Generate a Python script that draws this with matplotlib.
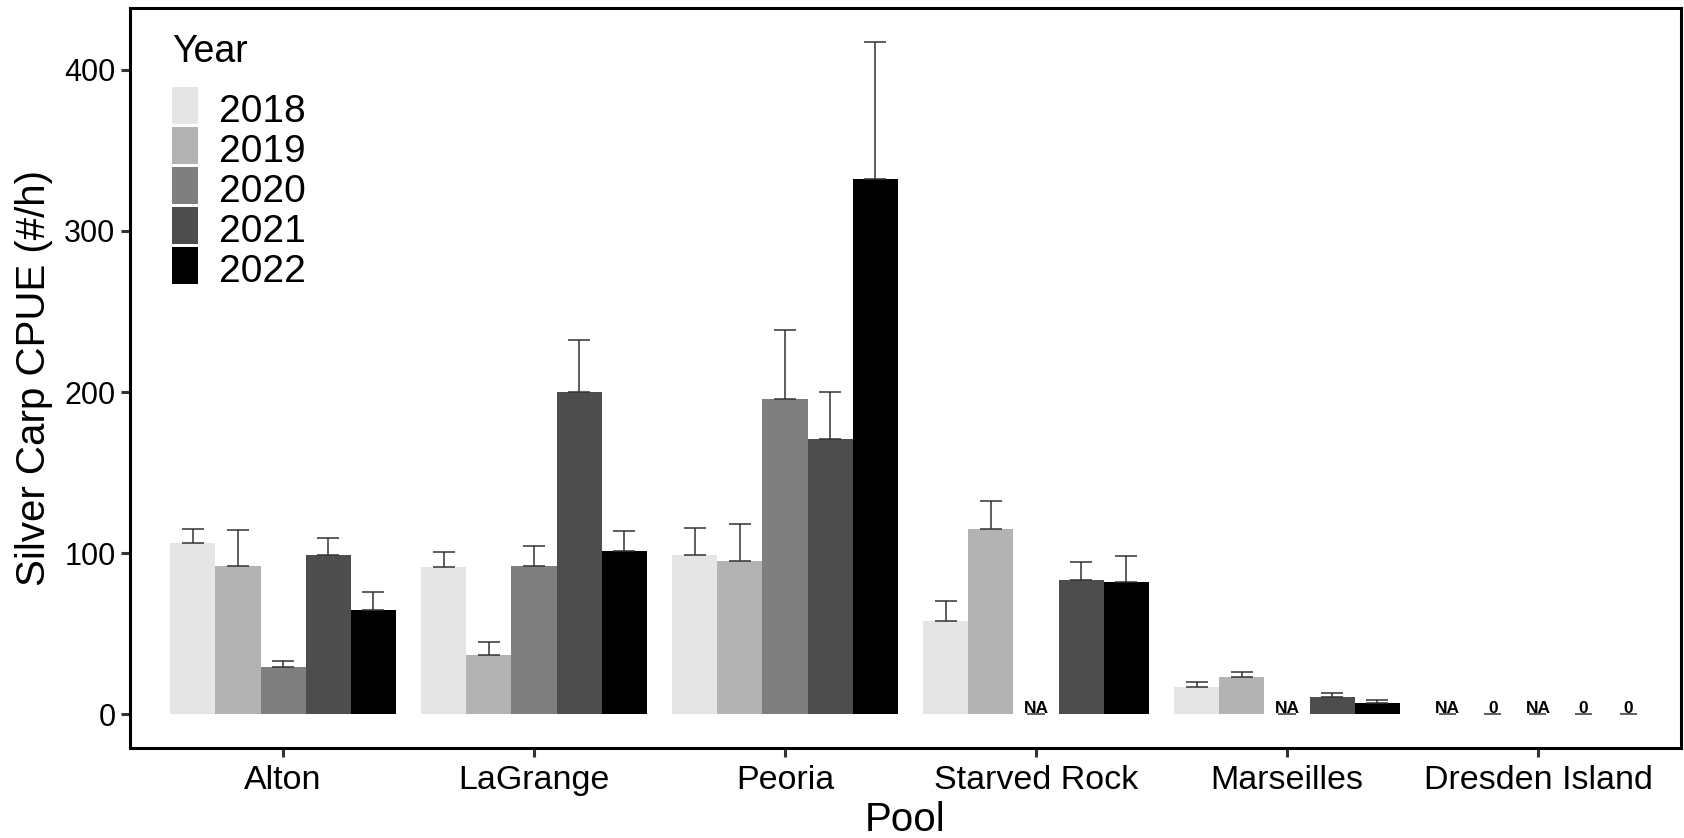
import numpy as np
import matplotlib
matplotlib.use("Agg")
import matplotlib.pyplot as plt
from matplotlib.patches import Rectangle
from matplotlib.transforms import offset_copy

plt.rcParams['font.family'] = ['Liberation Sans', 'DejaVu Sans']

pools = ['Alton', 'LaGrange', 'Peoria', 'Starved Rock', 'Marseilles', 'Dresden Island']
years = ['2018', '2019', '2020', '2021', '2022']
fills = ['#E5E5E5', '#B3B3B3', '#7F7F7F', '#4D4D4D', '#000000']

# mean CPUE per pool (rows) and year (cols); nan = NA
cpue = np.array([
    [106.0, 92.0, 29.0, 99.0, 64.5],
    [91.5, 36.8, 92.0, 200.0, 101.5],
    [98.5, 95.0, 195.5, 171.0, 332.0],
    [57.6, 114.7, np.nan, 83.5, 82.2],
    [16.6, 22.8, np.nan, 10.4, 6.6],
    [np.nan, 0.0, np.nan, 0.0, 0.0],
])
# upper end of error bar (mean + SE)
upper = np.array([
    [115.0, 114.0, 33.0, 109.5, 75.6],
    [100.4, 44.9, 104.3, 232.3, 113.7],
    [115.3, 118.0, 238.5, 200.0, 417.5],
    [70.4, 132.3, np.nan, 94.4, 98.1],
    [20.1, 26.3, np.nan, 13.2, 8.7],
    [np.nan, 0.0, np.nan, 0.0, 0.0],
])

W, H = 1684, 838
fig = plt.figure(figsize=(W / 100, H / 100), dpi=100)
ax = fig.add_axes([130 / W, 1 - 748 / H, (1681 - 130) / W, (748 - 8) / H])

x = np.arange(1, len(pools) + 1)
bw = 0.18
offsets = (np.arange(len(years)) - 2) * bw

for j, yr in enumerate(years):
    xs = x + offsets[j]
    vals = cpue[:, j]
    ok = ~np.isnan(vals) & (vals > 0)
    ax.bar(xs[ok], vals[ok], width=bw, color=fills[j], linewidth=0, zorder=2)
    err = upper[ok, j] - vals[ok]
    ax.errorbar(xs[ok], vals[ok], yerr=[np.zeros_like(err), err], fmt='none',
                ecolor='#333333', elinewidth=1.1, capsize=7.8, capthick=1.1, zorder=3)
    # labels for missing / zero catches
    for xi, v in zip(xs[~ok], vals[~ok]):
        lab = 'NA' if np.isnan(v) else '0'
        ax.hlines(0, xi - 0.034, xi + 0.034, color='#333333', linewidth=1.1, zorder=3)
        ax.text(xi, 0, lab, ha='center', va='baseline', fontsize=12.5, fontweight='bold',
                transform=offset_copy(ax.transData, fig=fig, y=1.5, units='dots'), zorder=4)

ax.set_xlim(0.39, 6.57)
ax.set_ylim(-21.1, 438.5)
ax.set_yticks([0, 100, 200, 300, 400])
ax.set_xticks(x)
ax.set_xticklabels(pools)
ax.tick_params(axis='both', direction='out', length=6.5, width=2.2, color='#333333')
ax.tick_params(axis='y', labelsize=22, pad=4)
ax.tick_params(axis='x', labelsize=24.5, pad=6)
for s in ax.spines.values():
    s.set_linewidth(2.2)
    s.set_color('black')

ax.set_xlabel('Pool', fontsize=29, labelpad=3)
ax.set_ylabel('Silver Carp CPUE (#/h)', fontsize=29, labelpad=8)

# legend (drawn by hand to match the key layout)
ft = fig.transFigure
fig.text(172 / W, 1 - 62 / H, 'Year', fontsize=27, ha='left', va='baseline')
for j, yr in enumerate(years):
    top = 87 + 40 * j
    fig.patches.append(Rectangle((172 / W, 1 - (top + 37) / H), 26 / W, 37 / H,
                                 transform=ft, facecolor=fills[j], edgecolor='none'))
    fig.text(219 / W, 1 - (top + 35) / H, yr, fontsize=28, ha='left', va='baseline')

fig.savefig('out.png', dpi=100)
